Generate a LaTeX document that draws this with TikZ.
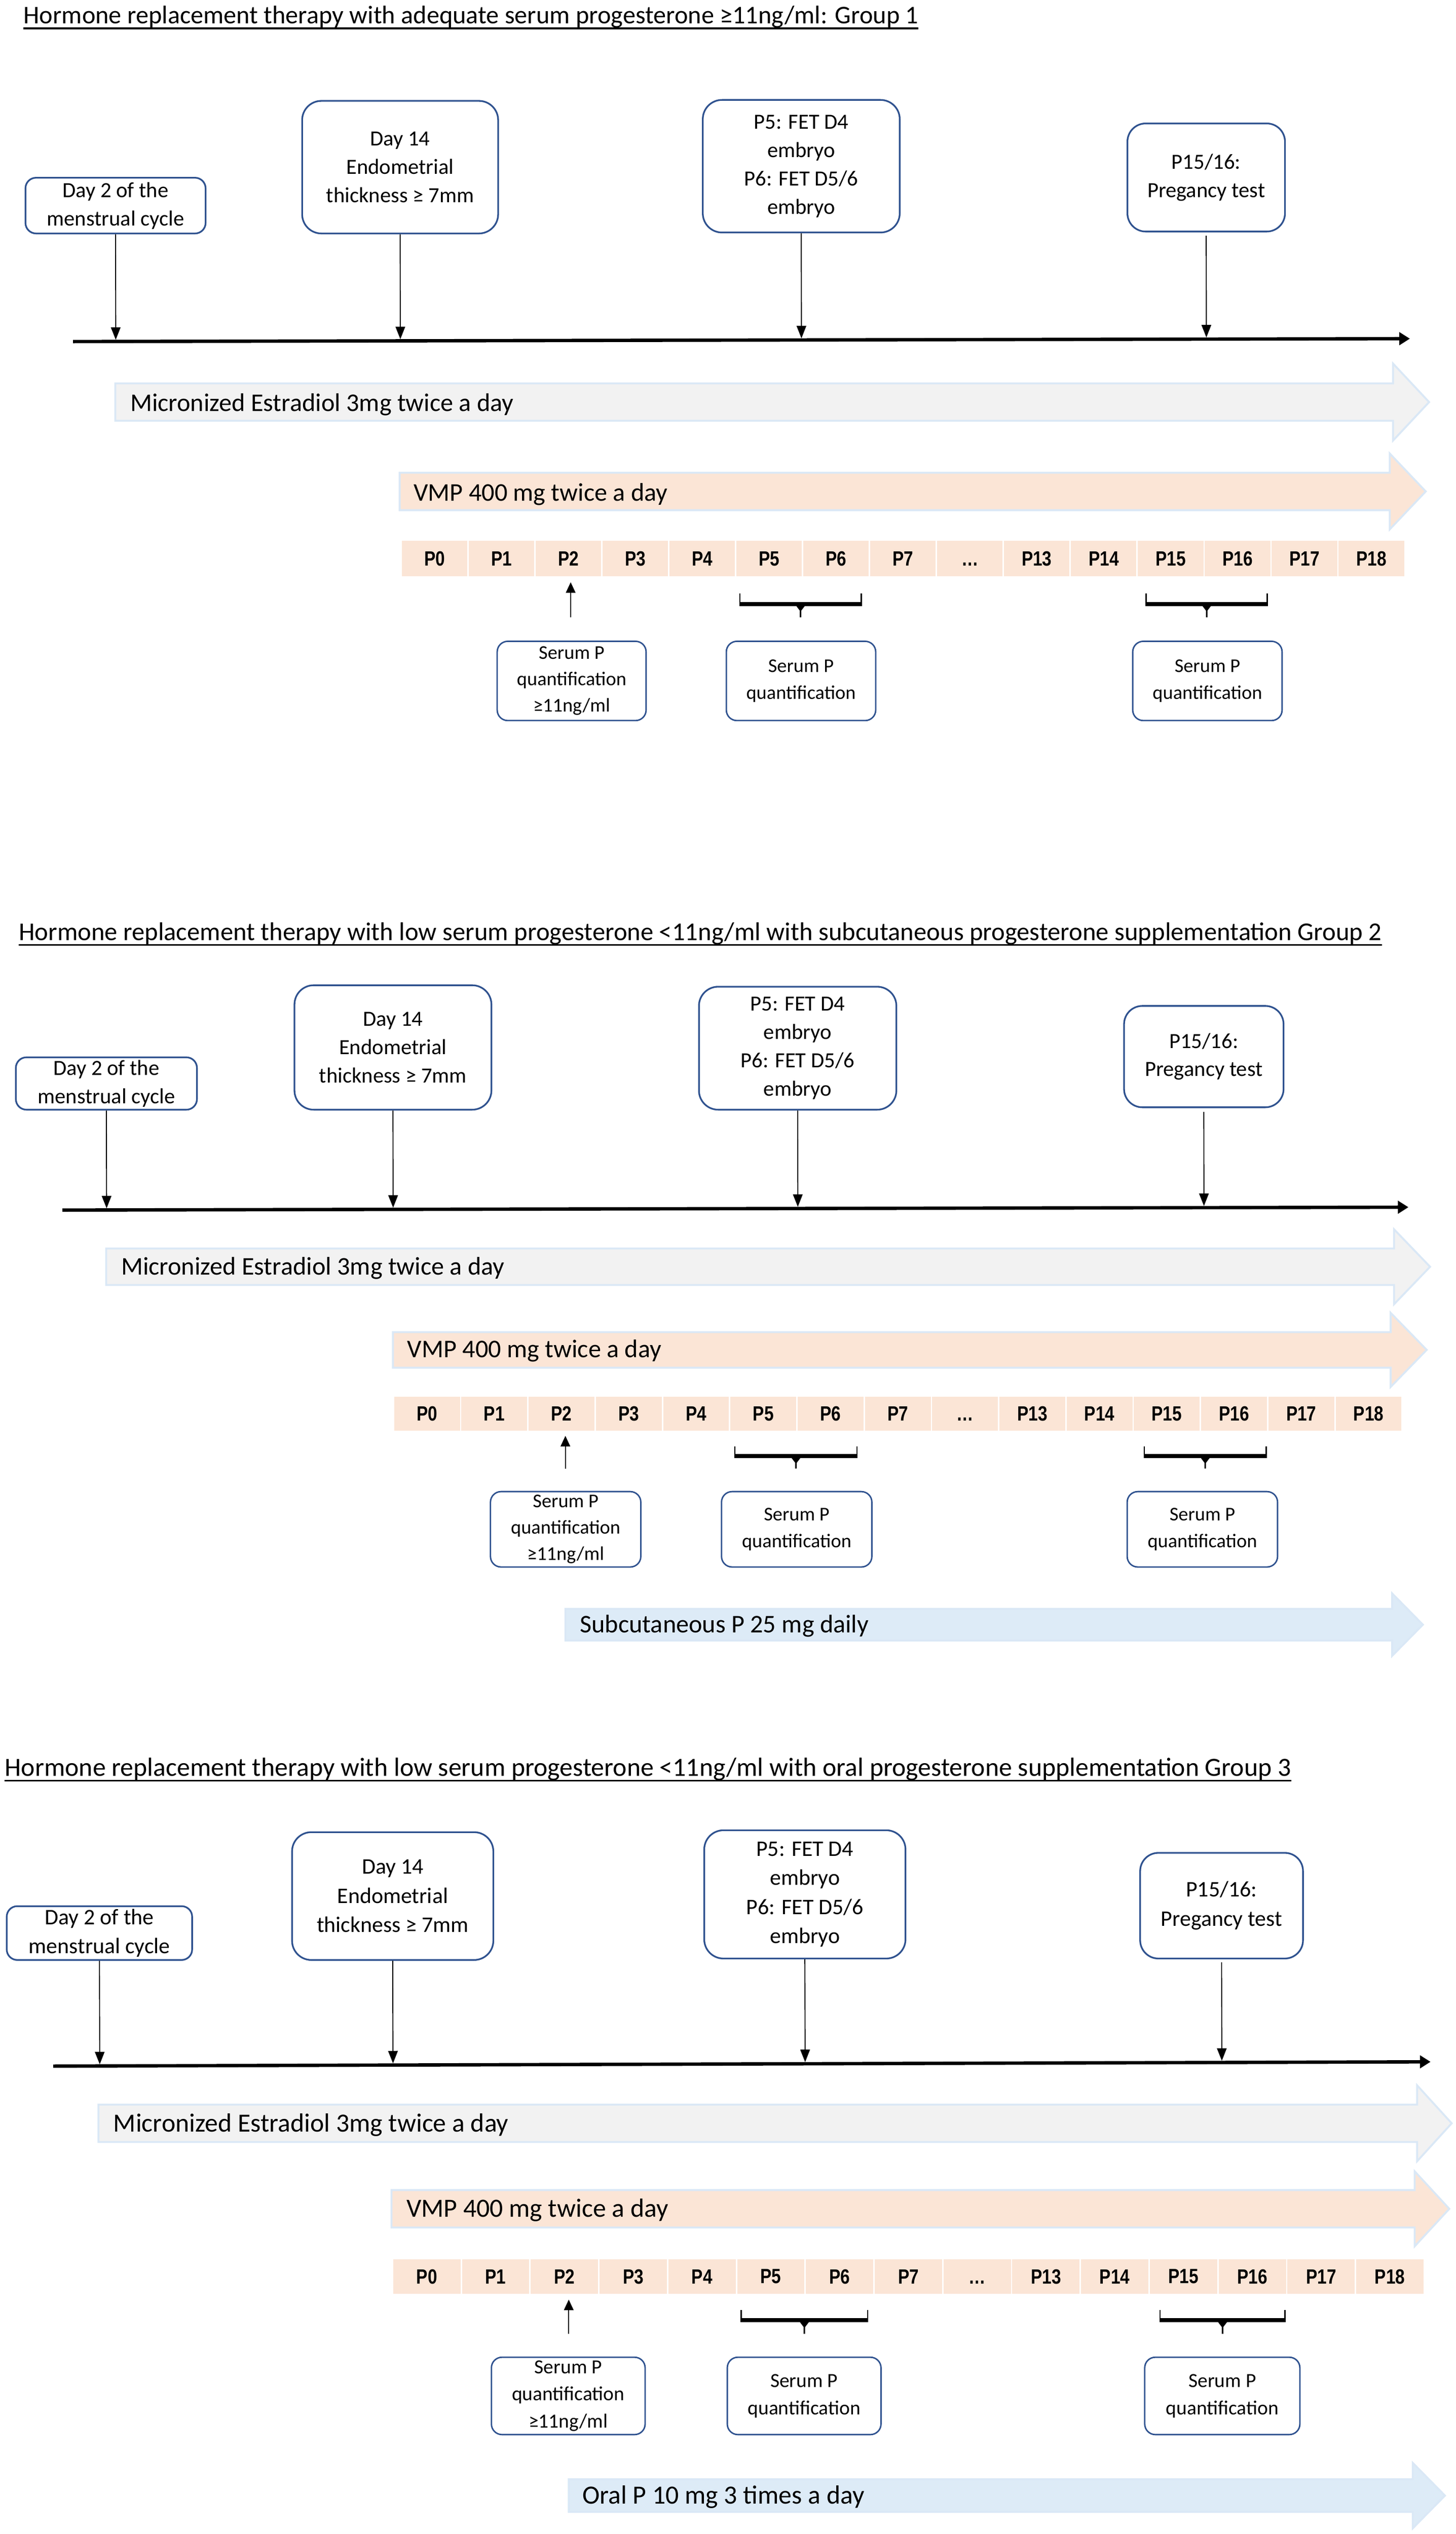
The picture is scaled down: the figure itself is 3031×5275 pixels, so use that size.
\documentclass[tikz,border=0pt]{standalone}
\usepackage{fontspec}
\setmainfont{Carlito}
\newfontfamily\cellfont{Liberation Sans}[FakeStretch=0.82]
\usetikzlibrary{arrows.meta,calc}
\definecolor{boxblue}{HTML}{2F528F}
\definecolor{estfill}{HTML}{F2F2F2}
\definecolor{peach}{HTML}{FBE5D6}
\definecolor{lblue}{HTML}{DDEBF7}
\definecolor{lineblue}{HTML}{DAE8F6}
\tikzset{
  evbox/.style={draw=boxblue, line width=3.5pt, rounded corners=#1, align=center, inner sep=0pt, font=\fontsize{45}{59}\selectfont},
  evbox/.default=40pt,
  evboxL/.style={evbox=#1, font=\fontsize{46.3}{60.8}\selectfont},
  evboxL/.default=40pt,
  serbox/.style={draw=boxblue, line width=3pt, rounded corners=22pt, align=center, inner sep=0pt, font=\fontsize{40.5}{55}\selectfont},
  serboxL/.style={serbox, font=\fontsize{41.7}{56.6}\selectfont},
  ttl/.style={anchor=base west, inner sep=0pt, font=\fontsize{53}{64}\selectfont},
  ttlM/.style={ttl, font=\fontsize{53.4}{64}\selectfont},
  ttlL/.style={ttl, font=\fontsize{54.6}{66}\selectfont},
  uline/.style={line width=3.5pt},
  axisline/.style={line width=7pt, -{Triangle[length=22pt,width=26pt]}},
  tick/.style={line width=2pt, -{Triangle[length=26pt,width=20pt]}, shorten >=3.5pt},
  uptick/.style={line width=2pt, -{Triangle[length=22pt,width=20pt]}},
  cellbox/.style={fill=peach, inner sep=0pt, font=\cellfont\bfseries\fontsize{43}{50}\selectfont},
  drugline/.style={draw=lineblue, line width=4pt},
  druglabel/.style={anchor=base west, inner sep=0pt, font=\fontsize{53}{64}\selectfont},
  druglabelL/.style={druglabel, font=\fontsize{54.6}{66}\selectfont},
  bracepath/.style={line width=2.5pt},
}
% fill, left, headstart, tip, cy, body half, head half
\newcommand\drugarrow[7]{%
  \draw[drugline, fill=#1] (#2,#5-#6) -- (#3,#5-#6) -- (#3,#5-#7) -- (#4,#5) -- (#3,#5+#7) -- (#3,#5+#6) -- (#2,#5+#6) -- cycle;}
% x1, x2, top, bar, tip
\newcommand\pbrace[5]{%
  \draw[bracepath] (#1,#3) -- (#1,#4) -- (#2,#4) -- (#2,#3);
  \fill (#1,#4) rectangle (#2,#4-7);
  \fill ({(#1+#2)/2-10},#4) -- ({(#1+#2)/2+10},#4) -- ({(#1+#2)/2+1.6},#4+11) -- ({(#1+#2)/2+1.6},#5) -- ({(#1+#2)/2-1.6},#5) -- ({(#1+#2)/2-1.6},#4+11) -- cycle;}
\begin{document}
\begin{tikzpicture}[x=1pt,y=-1pt]
\fill[white] (0,0) rectangle (3031,5275);
\useasboundingbox (0,0) rectangle (3031,5275);

%%%%%%%%%%%%%%%% GROUP 1
\node[ttl] (t1) at (49,49) {Hormone replacement therapy with adequate serum progesterone ≥11ng/ml: Group 1};
\draw[uline] ([yshift=-10pt]t1.base west) -- ([yshift=-10pt]t1.base east);

\node[evbox=22pt, minimum width=375pt, minimum height=116pt] (g1b1) at (240.5,428) {Day 2 of the\\menstrual cycle};
\node[evbox, minimum width=408pt, minimum height=276pt] (g1b2) at (833,348) {Day 14\\Endometrial\\thickness ≥ 7mm};
\node[evbox, minimum width=410pt, minimum height=276pt] (g1b3) at (1668,346) {P5: FET D4\\embryo\\P6: FET D5/6\\embryo};
\node[evbox=38pt, minimum width=328pt, minimum height=225pt] (g1b4) at (2511,369.5) {P15/16:\\Pregancy test};

\coordinate (g1axL) at (152,711);
\coordinate (g1axR) at (2935,705);
\draw[axisline] (g1axL) -- (g1axR);
\draw[tick] (g1b1.south) -- ($(g1axL)!(g1b1.south)!(g1axR)$);
\draw[tick] (g1b2.south) -- ($(g1axL)!(g1b2.south)!(g1axR)$);
\draw[tick] (g1b3.south) -- ($(g1axL)!(g1b3.south)!(g1axR)$);
\draw[tick, shorten <=7pt] (g1b4.south) -- ($(g1axL)!(g1b4.south)!(g1axR)$);

\drugarrow{estfill}{240}{2900}{2975}{837}{39}{80}
\node[druglabel] (g1l1) at (271,856) {Micronized Estradiol 3mg twice a day};
\drugarrow{peach}{832}{2893}{2968}{1023}{39}{79}
\node[druglabel] (g1l2) at (861,1043) {VMP 400 mg twice a day};

\foreach \i/\t in {0/P0,1/P1,2/P2,3/P3,4/P4,5/P5,6/P6,7/P7,8/\ldots,9/P13,10/P14,11/P15,12/P16,13/P17,14/P18}
  \node[cellbox, minimum width=136.3pt, minimum height=74pt] (g1c\i) at ({835+(\i+0.5)*139.3},1163) {\vphantom{P}\t};

\coordinate (g1pa) at (1188,1285);
\coordinate (g1pb) at (1188,1212);
\draw[uptick] (g1pa) -- (g1pb);
\pbrace{1540}{1793}{1235}{1260}{1285}
\pbrace{2386}{2638}{1235}{1260}{1285}

\node[serbox, minimum width=310pt, minimum height=165pt] (g1s1) at (1190,1417.5) {Serum P\\quantification\\≥11ng/ml};
\node[serbox, minimum width=311pt, minimum height=165pt] (g1s2) at (1667.5,1417.5) {Serum P\\quantification};
\node[serbox, minimum width=311pt, minimum height=165pt] (g1s3) at (2513.5,1417.5) {Serum P\\quantification};

%%%%%%%%%%%%%%%% GROUP 2
\node[ttlM] (t2) at (39,1958) {Hormone replacement therapy with low serum progesterone <11ng/ml with subcutaneous progesterone supplementation Group 2};
\draw[uline] ([yshift=-9pt]t2.base west) -- ([yshift=-9pt]t2.base east);

\node[evbox=22pt, minimum width=377pt, minimum height=109pt] (g2b1) at (221.5,2255.5) {Day 2 of the\\menstrual cycle};
\node[evbox, minimum width=410pt, minimum height=259pt] (g2b2) at (818,2180.5) {Day 14\\Endometrial\\thickness ≥ 7mm};
\node[evbox, minimum width=411pt, minimum height=256pt] (g2b3) at (1660.5,2182) {P5: FET D4\\embryo\\P6: FET D5/6\\embryo};
\node[evbox=38pt, minimum width=332pt, minimum height=211pt] (g2b4) at (2506,2199.5) {P15/16:\\Pregancy test};

\coordinate (g2axL) at (130,2519);
\coordinate (g2axR) at (2932,2513);
\draw[axisline] (g2axL) -- (g2axR);
\draw[tick] (g2b1.south) -- ($(g2axL)!(g2b1.south)!(g2axR)$);
\draw[tick] (g2b2.south) -- ($(g2axL)!(g2b2.south)!(g2axR)$);
\draw[tick] (g2b3.south) -- ($(g2axL)!(g2b3.south)!(g2axR)$);
\draw[tick, shorten <=8pt] (g2b4.south) -- ($(g2axL)!(g2b4.south)!(g2axR)$);

\drugarrow{estfill}{221}{2902}{2977}{2637}{38}{78}
\node[druglabel] (g2l1) at (252,2654) {Micronized Estradiol 3mg twice a day};
\drugarrow{peach}{818}{2895}{2970}{2810}{37}{77}
\node[druglabel] (g2l2) at (848,2826) {VMP 400 mg twice a day};

\foreach \i/\t in {0/P0,1/P1,2/P2,3/P3,4/P4,5/P5,6/P6,7/P7,8/\ldots,9/P13,10/P14,11/P15,12/P16,13/P17,14/P18}
  \node[cellbox, minimum width=137pt, minimum height=70pt] (g2c\i) at ({819+(\i+0.5)*140},2943) {\vphantom{P}\t};

\coordinate (g2pa) at (1177,3057);
\coordinate (g2pb) at (1177,2989);
\draw[uptick] (g2pa) -- (g2pb);
\pbrace{1530}{1784}{3011}{3034}{3057}
\pbrace{2382}{2636}{3011}{3034}{3057}

\node[serbox, minimum width=313pt, minimum height=157pt] (g2s1) at (1177.5,3183.5) {Serum P\\quantification\\≥11ng/ml};
\node[serbox, minimum width=313pt, minimum height=157pt] (g2s2) at (1658.5,3183.5) {Serum P\\quantification};
\node[serbox, minimum width=313pt, minimum height=157pt] (g2s3) at (2503,3183.5) {Serum P\\quantification};

\drugarrow{lblue}{1177}{2898}{2962}{3382}{33}{65}
\node[druglabel] (g2l3) at (1207,3399) {Subcutaneous P 25 mg daily};

%%%%%%%%%%%%%%%% GROUP 3
\node[ttlL] (t3) at (10,3697) {Hormone replacement therapy with low serum progesterone <11ng/ml with oral progesterone supplementation Group 3};
\draw[uline] ([yshift=-10pt]t3.base west) -- ([yshift=-10pt]t3.base east);

\node[evboxL=22pt, minimum width=386pt, minimum height=112pt] (g3b1) at (207,4024) {Day 2 of the\\menstrual cycle};
\node[evboxL, minimum width=419pt, minimum height=266pt] (g3b2) at (817.5,3947) {Day 14\\Endometrial\\thickness ≥ 7mm};
\node[evboxL, minimum width=419pt, minimum height=267pt] (g3b3) at (1675.5,3943.5) {P5: FET D4\\embryo\\P6: FET D5/6\\embryo};
\node[evboxL=38pt, minimum width=339pt, minimum height=220pt] (g3b4) at (2543,3967) {P15/16:\\Pregancy test};

\coordinate (g3axL) at (111,4301);
\coordinate (g3axR) at (2978,4292);
\draw[axisline] (g3axL) -- (g3axR);
\draw[tick] (g3b1.south) -- ($(g3axL)!(g3b1.south)!(g3axR)$);
\draw[tick] (g3b2.south) -- ($(g3axL)!(g3b2.south)!(g3axR)$);
\draw[tick] (g3b3.south) -- ($(g3axL)!(g3b3.south)!(g3axR)$);
\draw[tick, shorten <=6pt] (g3b4.south) -- ($(g3axL)!(g3b4.south)!(g3axR)$);

\drugarrow{estfill}{205}{2950}{3022}{4420}{39}{79}
\node[druglabelL] (g3l1) at (236,4438) {Micronized Estradiol 3mg twice a day};
\drugarrow{peach}{815}{2945}{3017}{4598}{39}{78}
\node[druglabelL] (g3l2) at (846,4615) {VMP 400 mg twice a day};

\foreach \i/\t in {0/P0,1/P1,2/P2,3/P3,4/P4,5/P5,6/P6,7/P7,8/\ldots,9/P13,10/P14,11/P15,12/P16,13/P17,14/P18}
  \node[cellbox, minimum width=140.2pt, minimum height=72pt] (g3c\i) at ({817+(\i+0.5)*143.2},4739) {\vphantom{P}\t};

\coordinate (g3pa) at (1184,4858);
\coordinate (g3pb) at (1184,4787);
\draw[uptick] (g3pa) -- (g3pb);
\pbrace{1543}{1806}{4809}{4833}{4858}
\pbrace{2415}{2675}{4809}{4833}{4858}

\node[serboxL, minimum width=320pt, minimum height=161pt] (g3s1) at (1183,4987.5) {Serum P\\quantification\\≥11ng/ml};
\node[serboxL, minimum width=320pt, minimum height=161pt] (g3s2) at (1674,4987.5) {Serum P\\quantification};
\node[serboxL, minimum width=323pt, minimum height=161pt] (g3s3) at (2544.5,4987.5) {Serum P\\quantification};

\drugarrow{lblue}{1184}{2941}{3008}{5195}{34}{68}
\node[druglabelL] (g3l3) at (1212,5212) {Oral P 10 mg 3 times a day};
\end{tikzpicture}
\end{document}
